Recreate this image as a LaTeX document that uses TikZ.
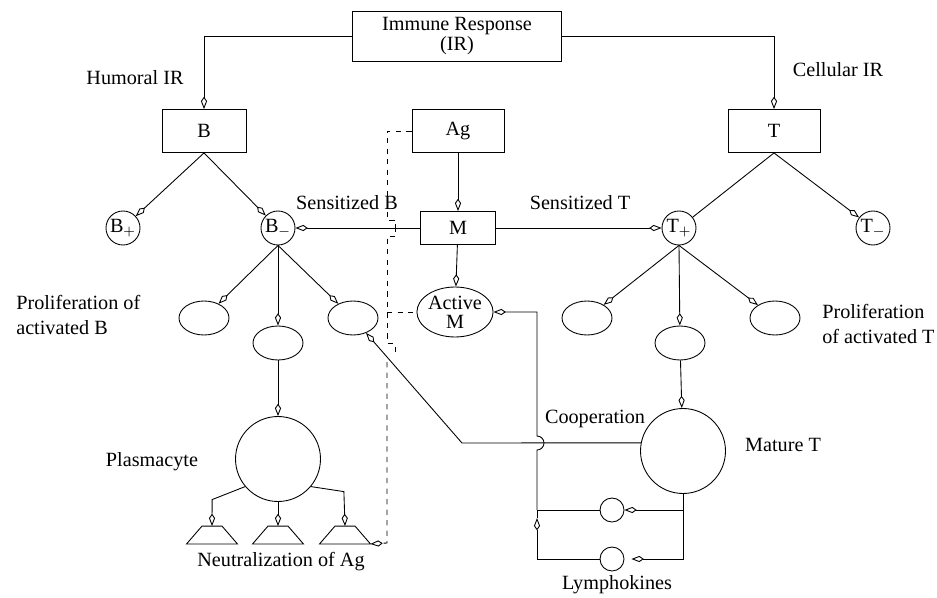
\documentclass[tikz,border=0pt]{standalone}
\usepackage{fontspec}
\setmainfont{Liberation Serif}
\usetikzlibrary{arrows.meta,positioning,shapes.geometric,calc}

\begin{document}
\begin{tikzpicture}[
  x=0.02cm, y=-0.02cm, line width=0.5pt,
  font=\fontsize{11.5}{14}\selectfont,
  box/.style={draw, rectangle, minimum width=1.84cm, minimum height=0.86cm, inner sep=1pt},
  cell/.style={draw, circle, minimum size=0.68cm, inner sep=0pt},
  blob/.style={draw, ellipse, minimum width=1cm, minimum height=0.68cm, inner sep=0pt},
  tube/.style={rectangle, minimum width=1cm, minimum height=0.34cm, inner sep=0pt},
  arr/.style={-{Kite[open, length=7pt, width=3.5pt, inset=2.5pt]}}
]
\useasboundingbox (0,0) rectangle (937,598);

% boxes
\node[box, minimum width=4.18cm, minimum height=1cm, align=center] (ir) at (457,36) {Immune Response\\[-3pt](IR)};
\node[box, minimum width=1.68cm] (b) at (204,131) {B};
\node[box] (ag) at (458,131) {Ag};
\node[box] (t) at (774,131) {T};
\node[box, minimum width=1.5cm, minimum height=0.66cm] (m) at (458,228) {M};

% cells
\node[cell] (bp) at (123,228) {B$_+$};
\node[cell] (bm) at (278,228) {B$_-$};
\node[cell] (tp) at (679,228) {T$_+$};
\node[cell] (tm) at (873,228) {T$_-$};
\node[blob, minimum width=1.34cm, minimum height=1cm, align=center] (am) at (455,312) {Active\\[-3pt]M};

\node[blob] (pb1) at (204,318) {};
\node[blob] (pb2) at (278,343) {};
\node[blob] (pb3) at (353,318) {};
\node[blob] (pt1) at (587,318) {};
\node[blob] (pt2) at (680,343) {};
\node[blob] (pt3) at (775,318) {};

\node[cell, minimum size=1.7cm] (plasma) at (278,459) {};
\node[cell, minimum size=1.7cm] (matT) at (683,451) {};
\node[cell, minimum size=0.48cm] (ly1) at (612,510) {};
\node[cell, minimum size=0.48cm] (ly2) at (612,559) {};

\node[tube] (tr1) at (212,535) {};
\node[tube] (tr2) at (278,535) {};
\node[tube] (tr3) at (345,535) {};
\foreach \n in {tr1,tr2,tr3}
  \draw (\n.south west) -- ([xshift=-0.2cm]\n.north) -- ([xshift=0.2cm]\n.north) -- (\n.south east) -- cycle;

% labels
\node (lhum) at (135,78) {Humoral IR};
\node (lcel) at (838,70) {Cellular IR};
\node (lsb) at (347,203) {Sensitized B};
\node (lst) at (580,203) {Sensitized T};
\node[align=left, anchor=west] (lpb) at (10,315) {Proliferation of\\activated B};
\node[align=left, anchor=west] (lpt) at (816,324) {Proliferation\\of activated T};
\node (lpl) at (152,462) {Plasmacyte};
\node (lna) at (281,562) {Neutralization of Ag};
\node (lco) at (595,419) {Cooperation};
\node (lmt) at (783,445) {Mature T};
\node (lly) at (617,585) {Lymphokines};

% connectors
\draw[arr] (ir.west) -| (b.north);
\draw[arr] (ir.east) -| (t.north);
\draw[arr] (b.south) -- (bp);
\draw[arr] (b.south) -- (bm);
\draw (t.south) -- (tp);
\draw[arr] (t.south) -- (tm);
\draw[arr] (ag) -- (m);
\draw[arr] (m) -- (bm);
\draw[arr] (m) -- (tp);
\draw[arr] (m) -- (am);
\foreach \e in {pb1,pb2,pb3} \draw[arr] (bm.south) -- (\e);
\foreach \e in {pt1,pt2,pt3} \draw[arr] (tp.south) -- (\e);
\draw[arr] (pb2) -- (plasma);
\draw[arr] (pt2) -- (matT);
\draw[arr] (plasma.220) -- ++(-33,13) -- (tr1.north);
\draw[arr] (plasma.south) -- (tr2.north);
\draw[arr] (plasma.320) -- ++(33,5) -- (tr3.north);

% antigen path
\draw[dashed] (ag.west) -| (387,220) -- (395,220);
\draw (395,224) -- (395,232);
\draw[dashed] (395,236) -- (387,236) -- (387,343) -- (395,343) -- (395,353);
\draw[dashed, arr] (387,362) -- (387,543) -- (tr3.south east);
\draw[dashed] (387,312) -- (am.west);

% lymphokines and cooperation
\coordinate (lj) at (537,510);
\draw[arr] (matT.south) |- (ly1.east);
\draw[arr, shorten >=4pt] (matT.south) |- (ly2.east);
\draw (ly1.west) -- (lj);
\draw[arr] (ly2.west) -| (537,518);
\draw (537,518) -- (lj);
\draw[arr] (lj) -- (537,450) arc[start angle=-90, end angle=90, radius=0.14cm] |- (am.east);
\draw[arr] (matT.169) -- (462,443) -- (pb3);
\end{tikzpicture}
\end{document}
